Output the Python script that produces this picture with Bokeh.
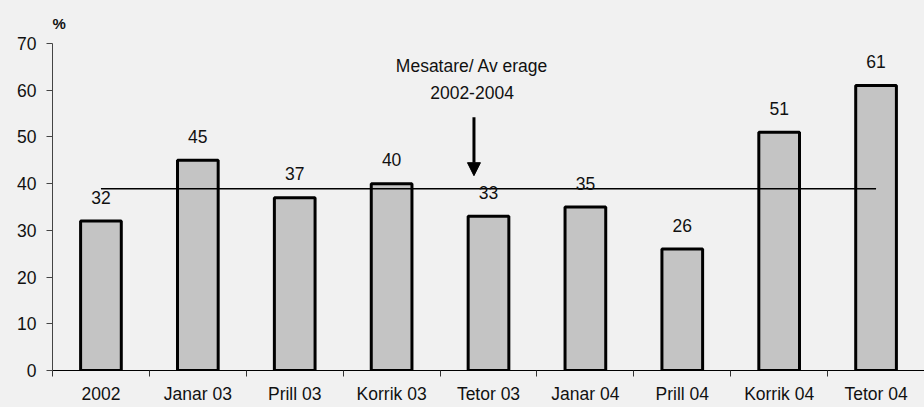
from bokeh.plotting import figure
from bokeh.models import (Range1d, FixedTicker, ColumnDataSource, Label, Arrow,
                          NormalHead)
from bokeh.core.properties import value
from bokeh.embed import file_html
from bokeh.resources import INLINE

# ---- data ----
categories = ["2002", "Janar 03", "Prill 03", "Korrik 03", "Tetor 03",
              "Janar 04", "Prill 04", "Korrik 04", "Tetor 04"]
values = [32, 45, 37, 40, 33, 35, 26, 51, 61]
average = 38.9
avg_label = ["Mesatare/ Av erage", "2002-2004"]
y_ticks = [0, 10, 20, 30, 40, 50, 60, 70]

FONT = "Liberation Sans"
FS = "17.5px"
BG = "#F1F1F1"
TXT = "#111111"

n = len(categories)
centers = [i + 0.5 for i in range(n)]
bounds = list(range(n + 1))

p = figure(width=924, height=407, output_backend="svg", toolbar_location=None,
           x_range=Range1d(0, n), y_range=Range1d(0, 70),
           min_border_left=52, min_border_right=0, min_border_top=43,
           min_border_bottom=37)
p.background_fill_color = BG
p.border_fill_color = BG
p.outline_line_color = None
p.xgrid.grid_line_color = None
p.ygrid.grid_line_color = None

# "%" unit label as title
p.title.text = "%"
p.title.align = "left"
p.title.text_font = FONT
p.title.text_font_size = "15px"
p.title.text_font_style = "bold"
p.title.text_color = TXT
p.title.standoff = 24
p.title.offset = 0

src = ColumnDataSource(dict(x=centers, top=values,
                            label=[str(v) for v in values]))
p.vbar(x="x", top="top", width=0.42, source=src, fill_color="#C4C4C4",
       line_color="black", line_width=3)

# average line (from first to last category centre)
p.line(x=[centers[0], centers[-1]], y=[average, average], line_color="black",
       line_width=1.5)

# value labels
p.text(x="x", y="top", text="label", source=src, text_align="center",
       text_baseline="middle", y_offset=-24, text_font=value(FONT),
       text_font_size=FS, text_color=TXT)

# annotation
p.add_layout(Label(x=4.33, y=65.1, text=avg_label[0], text_align="center",
                   text_baseline="middle", text_font=FONT,
                   text_font_size=FS, text_color=TXT))
p.add_layout(Label(x=4.33, y=59.5, text=avg_label[1], text_align="center",
                   text_baseline="middle", text_font=FONT,
                   text_font_size=FS, text_color=TXT))
p.add_layout(Arrow(x_start=4.35, y_start=54.2, x_end=4.35, y_end=41.7,
                   line_width=3, line_color="black",
                   end=NormalHead(size=13, fill_color="black",
                                  line_color="black")))

# x axis
xa = p.xaxis[0]
xa.ticker = FixedTicker(ticks=centers, minor_ticks=bounds)
xa.major_label_overrides = {c: lab for c, lab in zip(centers, categories)}
xa.major_tick_line_color = None
xa.major_tick_out = 0
xa.major_tick_in = 0
xa.minor_tick_out = 6
xa.minor_tick_in = 0
xa.minor_tick_line_color = "#333333"
xa.axis_line_color = "black"
xa.major_label_standoff = 7
xa.major_label_text_font = FONT
xa.major_label_text_font_size = FS
xa.major_label_text_color = TXT

# y axis
ya = p.yaxis[0]
ya.ticker = FixedTicker(ticks=y_ticks)
ya.major_tick_out = 6
ya.major_tick_in = 0
ya.minor_tick_line_color = None
ya.axis_line_color = "#444444"
ya.major_tick_line_color = "#444444"
ya.major_label_standoff = 10
ya.major_label_text_font = FONT
ya.major_label_text_font_size = FS
ya.major_label_text_color = TXT

html = file_html(p, INLINE)
html = html.replace("</head>", "<style>body{background:#F1F1F1;}</style></head>", 1)
open("out.html", "w").write(html)
